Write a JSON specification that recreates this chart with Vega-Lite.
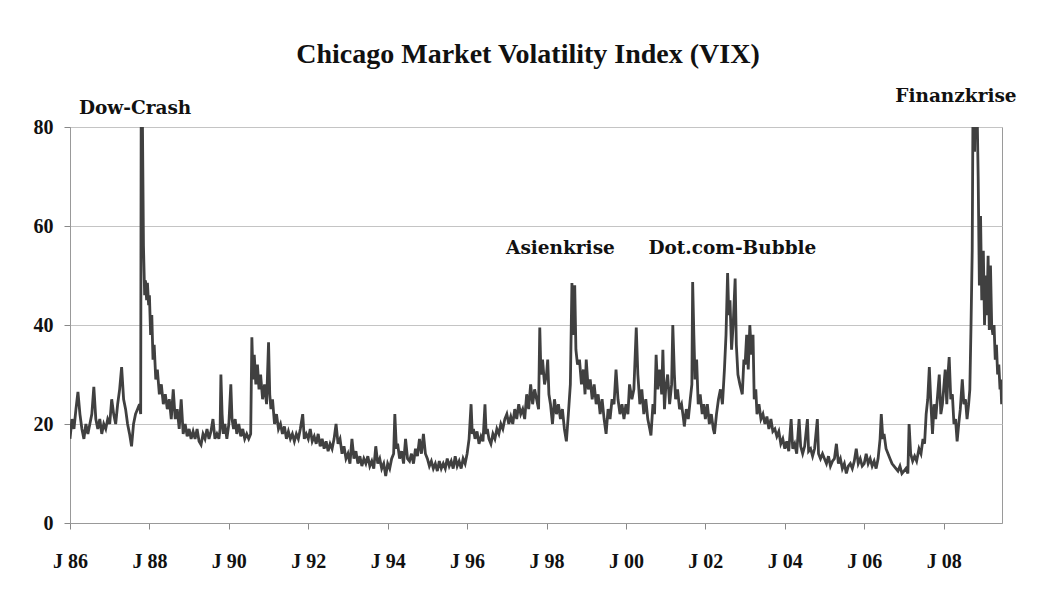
{
  "$schema": "https://vega.github.io/schema/vega-lite/v6.json",
  "width": 932,
  "height": 396,
  "autosize": {"type": "none"},
  "padding": {"left": 70, "top": 127, "right": 43, "bottom": 75},
  "background": "white",
  "title": {"text": "Chicago Market Volatility Index (VIX)", "font": "Liberation Serif", "fontSize": 28, "fontWeight": "bold", "color": "#111", "anchor": "middle", "offset": 18, "dx": -8},
  "config": {"view": {"stroke": "#9a9a9a", "strokeWidth": 1}},
  "datasets": {
    "vix": [
{"t":1986.00,"v":17},{"t":1986.05,"v":21},{"t":1986.10,"v":19},{"t":1986.15,"v":23},{"t":1986.20,"v":26.5},{"t":1986.25,"v":22},{"t":1986.30,"v":19},{"t":1986.35,"v":17},{"t":1986.40,"v":20},{"t":1986.45,"v":18},{"t":1986.50,"v":20},{"t":1986.55,"v":22},{"t":1986.60,"v":27.5},{"t":1986.65,"v":21},{"t":1986.70,"v":19},{"t":1986.75,"v":21},{"t":1986.80,"v":18},{"t":1986.85,"v":20},{"t":1986.90,"v":19},{"t":1986.95,"v":21},
{"t":1987.00,"v":20},{"t":1987.05,"v":25},{"t":1987.10,"v":22},{"t":1987.15,"v":20},{"t":1987.20,"v":24},{"t":1987.25,"v":27},{"t":1987.30,"v":31.5},{"t":1987.35,"v":25},{"t":1987.40,"v":23},{"t":1987.45,"v":20},{"t":1987.50,"v":18},{"t":1987.55,"v":15.5},{"t":1987.60,"v":20},{"t":1987.65,"v":22},{"t":1987.70,"v":23},{"t":1987.75,"v":24},{"t":1987.78,"v":22},{"t":1987.80,"v":120},{"t":1987.82,"v":85},{"t":1987.85,"v":56},{"t":1987.88,"v":46},{"t":1987.90,"v":49},{"t":1987.93,"v":45},{"t":1987.95,"v":48.5},{"t":1987.98,"v":44},
{"t":1988.00,"v":46},{"t":1988.03,"v":38},{"t":1988.06,"v":42},{"t":1988.09,"v":33},{"t":1988.12,"v":36},{"t":1988.16,"v":29},{"t":1988.20,"v":31},{"t":1988.25,"v":26},{"t":1988.30,"v":28},{"t":1988.35,"v":24},{"t":1988.40,"v":26},{"t":1988.45,"v":23},{"t":1988.50,"v":25},{"t":1988.55,"v":21},{"t":1988.60,"v":27},{"t":1988.65,"v":21},{"t":1988.70,"v":23},{"t":1988.75,"v":19},{"t":1988.80,"v":25},{"t":1988.85,"v":18},{"t":1988.90,"v":20},{"t":1988.95,"v":17.5},
{"t":1989.00,"v":19},{"t":1989.05,"v":17},{"t":1989.10,"v":18.5},{"t":1989.15,"v":17},{"t":1989.20,"v":19},{"t":1989.25,"v":16.5},{"t":1989.30,"v":15.8},{"t":1989.35,"v":18},{"t":1989.40,"v":17},{"t":1989.45,"v":19},{"t":1989.50,"v":17},{"t":1989.55,"v":18.5},{"t":1989.60,"v":21},{"t":1989.65,"v":17},{"t":1989.70,"v":18},{"t":1989.75,"v":17},{"t":1989.78,"v":19},{"t":1989.80,"v":30},{"t":1989.83,"v":22},{"t":1989.86,"v":18},{"t":1989.90,"v":20},{"t":1989.95,"v":17},
{"t":1990.00,"v":20},{"t":1990.05,"v":28},{"t":1990.08,"v":21},{"t":1990.12,"v":19},{"t":1990.16,"v":21},{"t":1990.20,"v":18},{"t":1990.25,"v":20},{"t":1990.30,"v":17.5},{"t":1990.35,"v":19},{"t":1990.40,"v":17},{"t":1990.45,"v":18},{"t":1990.50,"v":17},{"t":1990.55,"v":18},{"t":1990.58,"v":37.5},{"t":1990.61,"v":29},{"t":1990.64,"v":34},{"t":1990.68,"v":28},{"t":1990.72,"v":32},{"t":1990.76,"v":27},{"t":1990.80,"v":30},{"t":1990.85,"v":25},{"t":1990.90,"v":28},{"t":1990.95,"v":24},
{"t":1991.00,"v":36.5},{"t":1991.03,"v":26},{"t":1991.06,"v":23},{"t":1991.10,"v":25},{"t":1991.15,"v":20},{"t":1991.20,"v":22},{"t":1991.25,"v":19},{"t":1991.30,"v":20},{"t":1991.35,"v":18},{"t":1991.40,"v":19.5},{"t":1991.45,"v":17},{"t":1991.50,"v":18.5},{"t":1991.55,"v":17},{"t":1991.60,"v":18},{"t":1991.65,"v":16.5},{"t":1991.70,"v":18},{"t":1991.75,"v":17},{"t":1991.80,"v":19},{"t":1991.86,"v":22},{"t":1991.90,"v":17},{"t":1991.95,"v":18},
{"t":1992.00,"v":17},{"t":1992.05,"v":19},{"t":1992.10,"v":16.5},{"t":1992.15,"v":17.5},{"t":1992.20,"v":16},{"t":1992.25,"v":18},{"t":1992.30,"v":15.5},{"t":1992.35,"v":17},{"t":1992.40,"v":15},{"t":1992.45,"v":16.5},{"t":1992.50,"v":14.5},{"t":1992.55,"v":16},{"t":1992.60,"v":15},{"t":1992.65,"v":17},{"t":1992.70,"v":20},{"t":1992.75,"v":16},{"t":1992.80,"v":17},{"t":1992.85,"v":14},{"t":1992.90,"v":15.5},{"t":1992.95,"v":13},
{"t":1993.00,"v":14},{"t":1993.05,"v":12},{"t":1993.10,"v":17},{"t":1993.15,"v":13},{"t":1993.20,"v":14.5},{"t":1993.25,"v":12},{"t":1993.30,"v":13.5},{"t":1993.35,"v":11.5},{"t":1993.40,"v":13},{"t":1993.45,"v":12},{"t":1993.50,"v":13.5},{"t":1993.55,"v":11.5},{"t":1993.60,"v":12.5},{"t":1993.65,"v":11},{"t":1993.70,"v":15.5},{"t":1993.75,"v":12},{"t":1993.80,"v":13},{"t":1993.85,"v":11},{"t":1993.90,"v":12},{"t":1993.95,"v":9.5},
{"t":1994.00,"v":12},{"t":1994.05,"v":11},{"t":1994.10,"v":13},{"t":1994.15,"v":14},{"t":1994.18,"v":22},{"t":1994.22,"v":15},{"t":1994.25,"v":16},{"t":1994.30,"v":13},{"t":1994.35,"v":14.5},{"t":1994.40,"v":12},{"t":1994.45,"v":17},{"t":1994.50,"v":13},{"t":1994.55,"v":12.5},{"t":1994.60,"v":14},{"t":1994.65,"v":12},{"t":1994.70,"v":15},{"t":1994.75,"v":13.5},{"t":1994.80,"v":17},{"t":1994.85,"v":14},{"t":1994.90,"v":18},{"t":1994.95,"v":14},
{"t":1995.00,"v":13},{"t":1995.05,"v":11.5},{"t":1995.10,"v":12.5},{"t":1995.15,"v":11},{"t":1995.20,"v":12},{"t":1995.25,"v":10.5},{"t":1995.30,"v":12.5},{"t":1995.35,"v":11},{"t":1995.40,"v":12},{"t":1995.45,"v":11},{"t":1995.50,"v":13},{"t":1995.55,"v":11.5},{"t":1995.60,"v":12.5},{"t":1995.65,"v":11},{"t":1995.70,"v":13.5},{"t":1995.75,"v":11.5},{"t":1995.80,"v":12.5},{"t":1995.85,"v":11},{"t":1995.90,"v":13},{"t":1995.95,"v":12},
{"t":1996.00,"v":14},{"t":1996.05,"v":17},{"t":1996.10,"v":24},{"t":1996.13,"v":18},{"t":1996.16,"v":19},{"t":1996.20,"v":17},{"t":1996.25,"v":18.5},{"t":1996.30,"v":16},{"t":1996.35,"v":17.5},{"t":1996.40,"v":16.5},{"t":1996.45,"v":24},{"t":1996.48,"v":18},{"t":1996.51,"v":19},{"t":1996.55,"v":17},{"t":1996.60,"v":16},{"t":1996.65,"v":18},{"t":1996.70,"v":17},{"t":1996.75,"v":19},{"t":1996.80,"v":18},{"t":1996.85,"v":20},{"t":1996.90,"v":19},{"t":1996.95,"v":21},
{"t":1997.00,"v":22},{"t":1997.05,"v":20},{"t":1997.10,"v":21.5},{"t":1997.15,"v":20},{"t":1997.20,"v":23},{"t":1997.25,"v":21},{"t":1997.30,"v":24},{"t":1997.35,"v":22},{"t":1997.40,"v":23},{"t":1997.45,"v":21},{"t":1997.50,"v":26},{"t":1997.55,"v":23},{"t":1997.60,"v":28},{"t":1997.65,"v":24},{"t":1997.70,"v":27},{"t":1997.75,"v":25},{"t":1997.80,"v":23},{"t":1997.83,"v":39.5},{"t":1997.86,"v":30},{"t":1997.90,"v":33},{"t":1997.95,"v":28},
{"t":1998.00,"v":30},{"t":1998.03,"v":33},{"t":1998.06,"v":26},{"t":1998.10,"v":24},{"t":1998.15,"v":20},{"t":1998.20,"v":25},{"t":1998.25,"v":22},{"t":1998.30,"v":24},{"t":1998.35,"v":21},{"t":1998.40,"v":23},{"t":1998.45,"v":19},{"t":1998.50,"v":16.5},{"t":1998.55,"v":22},{"t":1998.60,"v":28},{"t":1998.64,"v":48.5},{"t":1998.67,"v":38},{"t":1998.71,"v":48},{"t":1998.74,"v":35},{"t":1998.78,"v":32},{"t":1998.83,"v":33},{"t":1998.88,"v":28},{"t":1998.93,"v":31},{"t":1998.97,"v":26},
{"t":1999.00,"v":33},{"t":1999.05,"v":27},{"t":1999.10,"v":29},{"t":1999.15,"v":25},{"t":1999.20,"v":28},{"t":1999.25,"v":24},{"t":1999.30,"v":26},{"t":1999.35,"v":22},{"t":1999.40,"v":25},{"t":1999.45,"v":21},{"t":1999.50,"v":18},{"t":1999.55,"v":23},{"t":1999.60,"v":21},{"t":1999.65,"v":25},{"t":1999.70,"v":24},{"t":1999.75,"v":31},{"t":1999.80,"v":25},{"t":1999.85,"v":22},{"t":1999.90,"v":24},{"t":1999.95,"v":21},
{"t":2000.00,"v":24},{"t":2000.05,"v":22},{"t":2000.09,"v":28},{"t":2000.15,"v":25},{"t":2000.20,"v":27},{"t":2000.26,"v":39.5},{"t":2000.30,"v":30},{"t":2000.35,"v":24},{"t":2000.40,"v":27},{"t":2000.45,"v":22},{"t":2000.50,"v":25},{"t":2000.55,"v":21},{"t":2000.60,"v":19},{"t":2000.63,"v":17.7},{"t":2000.68,"v":24},{"t":2000.72,"v":22},{"t":2000.76,"v":34},{"t":2000.80,"v":27},{"t":2000.85,"v":31},{"t":2000.90,"v":26},{"t":2000.93,"v":35},{"t":2000.97,"v":23},
{"t":2001.00,"v":27},{"t":2001.05,"v":30},{"t":2001.10,"v":24},{"t":2001.15,"v":28},{"t":2001.18,"v":40},{"t":2001.22,"v":30},{"t":2001.25,"v":25},{"t":2001.30,"v":27},{"t":2001.35,"v":23},{"t":2001.40,"v":24},{"t":2001.45,"v":21},{"t":2001.47,"v":19.5},{"t":2001.52,"v":23},{"t":2001.57,"v":21},{"t":2001.62,"v":25},{"t":2001.66,"v":28},{"t":2001.68,"v":48.7},{"t":2001.71,"v":38},{"t":2001.74,"v":29},{"t":2001.78,"v":33},{"t":2001.82,"v":24},{"t":2001.87,"v":26},{"t":2001.92,"v":22},{"t":2001.96,"v":24},
{"t":2002.00,"v":21},{"t":2002.05,"v":24},{"t":2002.10,"v":20},{"t":2002.15,"v":22},{"t":2002.20,"v":19},{"t":2002.23,"v":18},{"t":2002.28,"v":22},{"t":2002.33,"v":25},{"t":2002.38,"v":27},{"t":2002.43,"v":24},{"t":2002.48,"v":31},{"t":2002.52,"v":38},{"t":2002.56,"v":50.5},{"t":2002.59,"v":42},{"t":2002.62,"v":45},{"t":2002.66,"v":35},{"t":2002.70,"v":40},{"t":2002.75,"v":49.4},{"t":2002.78,"v":36},{"t":2002.82,"v":30},{"t":2002.87,"v":28},{"t":2002.93,"v":26},{"t":2002.97,"v":33},
{"t":2003.00,"v":32},{"t":2003.04,"v":38},{"t":2003.08,"v":31},{"t":2003.12,"v":40},{"t":2003.16,"v":34},{"t":2003.20,"v":38},{"t":2003.23,"v":25},{"t":2003.27,"v":27},{"t":2003.30,"v":22},{"t":2003.35,"v":24},{"t":2003.40,"v":21},{"t":2003.45,"v":22},{"t":2003.50,"v":20},{"t":2003.55,"v":21.5},{"t":2003.60,"v":19},{"t":2003.65,"v":21},{"t":2003.70,"v":18.5},{"t":2003.75,"v":19},{"t":2003.80,"v":17.5},{"t":2003.85,"v":18.5},{"t":2003.90,"v":16},{"t":2003.95,"v":17},
{"t":2004.00,"v":15},{"t":2004.05,"v":16.5},{"t":2004.10,"v":14.5},{"t":2004.16,"v":21},{"t":2004.20,"v":15},{"t":2004.25,"v":16},{"t":2004.30,"v":14},{"t":2004.36,"v":21},{"t":2004.40,"v":15.5},{"t":2004.45,"v":14},{"t":2004.50,"v":15.5},{"t":2004.57,"v":21},{"t":2004.60,"v":14.5},{"t":2004.65,"v":15},{"t":2004.70,"v":13.5},{"t":2004.75,"v":15},{"t":2004.82,"v":21},{"t":2004.85,"v":14},{"t":2004.90,"v":13},{"t":2004.95,"v":14},
{"t":2005.00,"v":13},{"t":2005.05,"v":12},{"t":2005.10,"v":13.5},{"t":2005.15,"v":11.5},{"t":2005.20,"v":12.5},{"t":2005.25,"v":13},{"t":2005.30,"v":16},{"t":2005.35,"v":12},{"t":2005.40,"v":13},{"t":2005.45,"v":11},{"t":2005.50,"v":12},{"t":2005.55,"v":10},{"t":2005.60,"v":11.5},{"t":2005.65,"v":12},{"t":2005.70,"v":11},{"t":2005.75,"v":12.5},{"t":2005.80,"v":15},{"t":2005.85,"v":12},{"t":2005.90,"v":13},{"t":2005.95,"v":11.5},
{"t":2006.00,"v":12},{"t":2006.05,"v":14},{"t":2006.10,"v":12},{"t":2006.15,"v":13},{"t":2006.20,"v":11.5},{"t":2006.25,"v":12.5},{"t":2006.30,"v":11},{"t":2006.35,"v":13},{"t":2006.40,"v":17},{"t":2006.43,"v":22},{"t":2006.47,"v":17},{"t":2006.50,"v":18},{"t":2006.55,"v":15},{"t":2006.60,"v":14},{"t":2006.65,"v":13},{"t":2006.70,"v":12},{"t":2006.75,"v":11.5},{"t":2006.80,"v":11},{"t":2006.85,"v":10.5},{"t":2006.90,"v":11.5},{"t":2006.95,"v":10},
{"t":2007.00,"v":10.5},{"t":2007.05,"v":11},{"t":2007.10,"v":10},{"t":2007.13,"v":20},{"t":2007.17,"v":14},{"t":2007.22,"v":12.5},{"t":2007.27,"v":13.5},{"t":2007.32,"v":12.5},{"t":2007.38,"v":15},{"t":2007.43,"v":14},{"t":2007.48,"v":17},{"t":2007.52,"v":16},{"t":2007.56,"v":22},{"t":2007.60,"v":25},{"t":2007.64,"v":31.5},{"t":2007.68,"v":24},{"t":2007.72,"v":18},{"t":2007.76,"v":24},{"t":2007.80,"v":21},{"t":2007.85,"v":26},{"t":2007.89,"v":30},{"t":2007.93,"v":22},{"t":2007.97,"v":24},
{"t":2008.00,"v":27},{"t":2008.04,"v":31},{"t":2008.08,"v":24},{"t":2008.11,"v":30},{"t":2008.14,"v":33.5},{"t":2008.18,"v":25},{"t":2008.22,"v":26},{"t":2008.26,"v":20},{"t":2008.30,"v":21},{"t":2008.34,"v":16.5},{"t":2008.38,"v":20},{"t":2008.42,"v":23},{"t":2008.47,"v":29},{"t":2008.51,"v":24},{"t":2008.55,"v":25},{"t":2008.59,"v":21},{"t":2008.63,"v":24},{"t":2008.66,"v":27},{"t":2008.69,"v":40},{"t":2008.72,"v":55},{"t":2008.75,"v":100},{"t":2008.78,"v":75},{"t":2008.81,"v":95},{"t":2008.84,"v":85},{"t":2008.87,"v":70},{"t":2008.90,"v":48},{"t":2008.93,"v":62},{"t":2008.96,"v":45},
{"t":2009.00,"v":55},{"t":2009.03,"v":40},{"t":2009.06,"v":50},{"t":2009.09,"v":42},{"t":2009.12,"v":54},{"t":2009.15,"v":39},{"t":2009.18,"v":52},{"t":2009.21,"v":40},{"t":2009.24,"v":38},{"t":2009.27,"v":40},{"t":2009.30,"v":33},{"t":2009.33,"v":36},{"t":2009.36,"v":30},{"t":2009.39,"v":32},{"t":2009.42,"v":27},{"t":2009.44,"v":29},{"t":2009.46,"v":24}
    ],
    "notes": [
      {"label": "Dow-Crash", "t": 1987.64, "v": 83.8},
      {"label": "Asienkrise", "t": 1998.35, "v": 55.6},
      {"label": "Dot.com-Bubble", "t": 2002.68, "v": 55.6},
      {"label": "Finanzkrise", "t": 2008.31, "v": 86.3}
    ]
  },
  "layer": [
    {
      "data": {"name": "vix"},
      "mark": {"type": "line", "color": "#404040", "strokeWidth": 2.8, "strokeJoin": "miter", "clip": true},
      "encoding": {
        "x": {"field": "t", "type": "quantitative", "scale": {"domain": [1986, 2009.47], "nice": false, "zero": false},
          "axis": {"title": null, "grid": false, "values": [1986,1988,1990,1992,1994,1996,1998,2000,2002,2004,2006,2008],
            "labelExpr": "'J ' + substring(toString(datum.value), 2)", "labelFlush": false, "labelOverlap": false,
            "labelFont": "Liberation Serif", "labelFontSize": 20, "labelFontWeight": "bold", "labelColor": "#111",
            "tickSize": 6, "tickColor": "#888", "domainColor": "#999", "labelPadding": 22}},
        "y": {"field": "v", "type": "quantitative", "scale": {"domain": [0, 80], "nice": false},
          "axis": {"title": null, "values": [0,20,40,60,80], "gridColor": "#c4c4c4",
            "labelFont": "Liberation Serif", "labelFontSize": 20, "labelFontWeight": "bold", "labelColor": "#111",
            "tickSize": 6, "tickColor": "#888", "domainColor": "#999", "labelPadding": 11}}
      }
    },
    {
      "data": {"name": "notes"},
      "mark": {"type": "text", "font": "DejaVu Serif", "fontSize": 18.5, "fontWeight": "bold", "color": "#111", "align": "center", "baseline": "middle"},
      "encoding": {
        "x": {"field": "t", "type": "quantitative"},
        "y": {"field": "v", "type": "quantitative"},
        "text": {"field": "label"}
      }
    }
  ]
}
